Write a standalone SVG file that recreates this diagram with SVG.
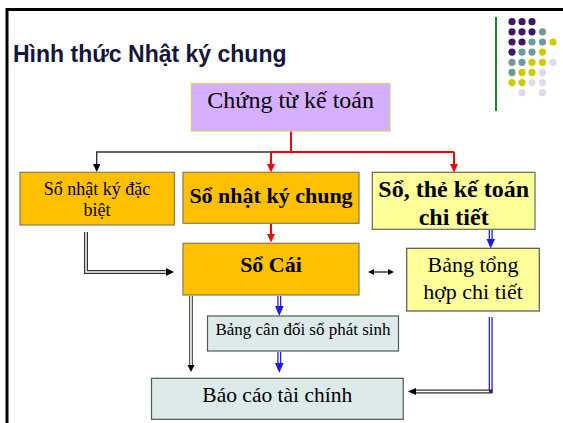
<svg xmlns="http://www.w3.org/2000/svg" width="563" height="423" viewBox="0 0 563 423">
<style>
.t{font-family:"Liberation Serif","Times New Roman",serif;fill:#000;text-anchor:middle}
.b{font-weight:bold}
.box{stroke-width:1.2}
.red{stroke:#ff0000;stroke-width:2;fill:none}
.blk{stroke:#333;stroke-width:1.4;fill:none}
.dblo{stroke-width:4;fill:none}
.dbli{stroke:#fff;stroke-width:1.5;fill:none}
</style>
<rect width="563" height="423" fill="#fff"/>
<g id="frame">
<line x1="7" y1="9.5" x2="563" y2="9.5" stroke="#000" stroke-width="3"/>
<line x1="7" y1="8" x2="7" y2="423" stroke="#000" stroke-width="3"/>
</g>
<g id="logo">
<line x1="496" y1="17" x2="496" y2="111" stroke="#1a8a1a" stroke-width="2"/>
<g fill="#3f1569">
<circle cx="512" cy="21.7" r="3.6"/><circle cx="522" cy="21.7" r="3.6"/><circle cx="532" cy="21.7" r="3.6"/>
<circle cx="512" cy="31.8" r="3.6"/><circle cx="522" cy="31.8" r="3.6"/><circle cx="532" cy="31.8" r="3.6"/>
<circle cx="512" cy="42" r="3.6"/><circle cx="522" cy="42" r="3.6"/>
<circle cx="512" cy="52.1" r="3.6"/>
</g>
<g fill="#6b9c9c">
<circle cx="542.5" cy="31.8" r="3.6"/>
<circle cx="532" cy="42" r="3.6"/><circle cx="542.5" cy="42" r="3.6"/>
<circle cx="522" cy="52.1" r="3.6"/><circle cx="532" cy="52.1" r="3.6"/>
<circle cx="512" cy="62.3" r="3.6"/><circle cx="522" cy="62.3" r="3.6"/>
<circle cx="512" cy="72.4" r="3.6"/>
</g>
<g fill="#cccc00">
<circle cx="553" cy="42" r="3.6"/>
<circle cx="542.5" cy="52.1" r="3.6"/>
<circle cx="532" cy="62.3" r="3.6"/><circle cx="542.5" cy="62.3" r="3.6"/>
<circle cx="522" cy="72.4" r="3.6"/><circle cx="532" cy="72.4" r="3.6"/>
<circle cx="512" cy="82.6" r="3.6"/><circle cx="522" cy="82.6" r="3.6"/>
</g>
<g fill="#dcdcee">
<circle cx="553" cy="62.3" r="3.6"/>
<circle cx="542.5" cy="72.4" r="3.6"/>
<circle cx="532" cy="82.6" r="3.6"/><circle cx="542.5" cy="82.6" r="3.6"/>
<circle cx="522" cy="92.7" r="3.6"/><circle cx="542.5" cy="92.7" r="3.6"/>
</g>
</g>
<text x="13" y="62" font-family="Liberation Sans, Arial, sans-serif" font-weight="bold" font-size="23" fill="#151540">Hình thức Nhật ký chung</text>

<g id="connectors">
<path class="blk" d="M96.7,165 V152 H271"/>
<polygon points="93,164 100.4,164 96.7,172" fill="#000"/>
<path class="red" d="M291,131 V152 M271,152 H454 M271,152 V166 M454,152 V166"/>
<polygon points="267,164 275,164 271,172.5" fill="#ff0000"/>
<polygon points="450,164 458,164 454,172.5" fill="#ff0000"/>
<path class="red" d="M271,224 V236"/>
<polygon points="267,234 275,234 271,242.5" fill="#ff0000"/>
<path class="dblo" stroke="#333" d="M86,232 V272 H168"/>
<path class="dbli" d="M86,232 V272 H168"/>
<polygon points="166,268 166,276 174,272" fill="#000"/>
<path class="blk" d="M371,272 H391"/>
<polygon points="368,272 374,269 374,275" fill="#000"/>
<polygon points="394,272 388,269 388,275" fill="#000"/>
<path class="dblo" stroke="#1a1aee" d="M490.7,230 V241"/>
<path class="dbli" d="M490.7,230 V241"/>
<polygon points="486.5,239 495,239 490.7,248.5" fill="#1a1aee"/>
<path class="dblo" stroke="#1a1aee" d="M279.3,296 V307"/>
<path class="dbli" d="M279.3,296 V307"/>
<polygon points="275,306 283.6,306 279.3,316" fill="#1a1aee"/>
<path class="dblo" stroke="#1a1aee" d="M279.3,352 V364"/>
<path class="dbli" d="M279.3,352 V364"/>
<polygon points="275,363 283.6,363 279.3,373" fill="#1a1aee"/>
<path class="dblo" stroke="#555" d="M191,296 V366"/>
<path class="dbli" d="M191,296 V366"/>
<polygon points="187.5,365 194.5,365 191,372" fill="#000"/>
<path class="dblo" stroke="#1a1aee" d="M490.7,317 V391.5"/>
<path class="dbli" d="M490.7,317 V390"/>
<path class="dblo" stroke="#333" d="M492.7,391.5 H414"/>
<path class="dbli" d="M489,391.5 H414"/>
<polygon points="416,388 416,395 408,391.5" fill="#000"/>
</g>

<g id="chung-tu">
<rect class="box" x="191.4" y="83.5" width="198.6" height="47.5" fill="#d6affe" stroke="#d8d070"/>
<text class="t" x="290.7" y="108" font-size="24">Chứng từ kế toán</text>
</g>
<g id="so-nky-dac-biet">
<rect class="box" x="20" y="172.3" width="154.3" height="52.7" fill="#ffc000" stroke="#8c7a50"/>
<text class="t" x="97" y="195" font-size="18">Sổ nhật ký đặc</text>
<text class="t" x="97" y="216" font-size="18">biệt</text>
</g>
<g id="so-nky-chung">
<rect class="box" x="183" y="172.3" width="176" height="51" fill="#ffc000" stroke="#8c7a50"/>
<text class="t b" x="271" y="203" font-size="22">Sổ nhật ký chung</text>
</g>
<g id="so-the-ktct">
<rect class="box" x="372.3" y="172.3" width="162.7" height="57" fill="#ffff99" stroke="#666"/>
<text class="t b" x="453.7" y="197" font-size="24">Sổ, thẻ kế toán</text>
<text class="t b" x="453.7" y="225" font-size="24">chi tiết</text>
</g>
<g id="so-cai">
<rect class="box" x="183" y="243.3" width="176" height="51.7" fill="#ffc000" stroke="#8c7a50"/>
<text class="t b" x="271" y="272" font-size="22">Sổ Cái</text>
</g>
<g id="bang-tong-hop">
<rect class="box" x="406.7" y="248.3" width="132.6" height="62.7" fill="#ffff99" stroke="#555"/>
<text class="t" x="473" y="271.7" font-size="22">Bảng tổng</text>
<text class="t" x="473" y="299.3" font-size="22">hợp chi tiết</text>
</g>
<g id="bang-can-doi">
<rect class="box" x="207.5" y="316" width="191" height="35" fill="#ddeaea" stroke="#555"/>
<text class="t" x="303" y="335" font-size="17">Bảng cân đối số phát sinh</text>
</g>
<g id="bao-cao">
<rect class="box" x="151.5" y="378.3" width="251.7" height="41" fill="#ddeaea" stroke="#555"/>
<text class="t" x="277.3" y="401.7" font-size="21.5">Báo cáo tài chính</text>
</g>
</svg>
